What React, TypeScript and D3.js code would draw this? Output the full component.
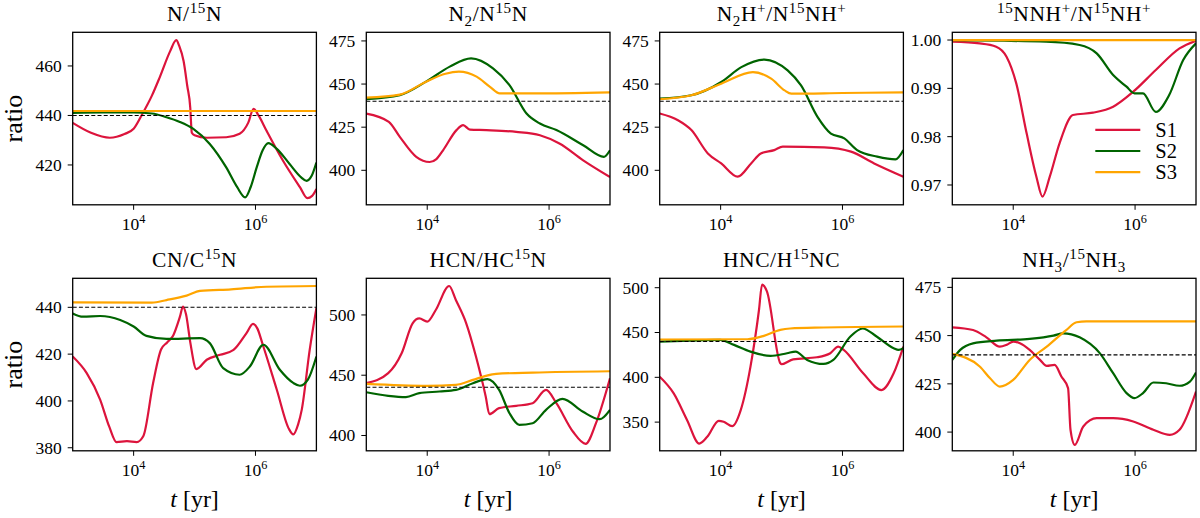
import * as d3 from "d3";

// log10(t / yr) and ratio
const nS1 = [[3.0,437],[3.3,433],[3.61,431],[3.85,432.5],[4.0,434.6],[4.13,440],[4.3,448],[4.43,455.5],[4.6,466],[4.7,470.4],[4.75,468],[4.82,462],[4.88,452],[4.93,443],[4.945,436],[4.955,433],[5.0,432],[5.2,431],[5.52,431.2],[5.74,432.6],[5.88,437],[5.97,442.7],[6.05,440],[6.18,433.9],[6.45,421.8],[6.73,411],[6.85,406.6],[6.93,407.5],[7.0,410.3]];
const nS2 = [[3.0,441],[3.5,441.2],[4.0,441.2],[4.3,440.8],[4.54,439.3],[4.75,437.5],[4.98,434.6],[5.25,428.5],[5.52,419],[5.7,411],[5.83,406.9],[5.92,411],[6.02,419],[6.12,426],[6.21,428.8],[6.35,426.5],[6.56,420.4],[6.75,415],[6.84,413.6],[6.92,415.5],[7.0,421]];
const nS3 = [[3.0,441.8],[7.0,441.8]];

const n2S1 = [[3.0,432.9],[3.37,428.1],[3.55,419.4],[3.82,407.8],[4.04,404.8],[4.15,406.5],[4.26,411.6],[4.48,423.3],[4.59,426.2],[4.7,423.6],[4.97,423.3],[5.46,422.3],[5.85,420.3],[6.17,415.5],[6.56,405.8],[7.0,396.1]];
const n2S2 = [[3.0,441.3],[3.55,443.6],[3.98,451.4],[4.37,460.1],[4.72,464.9],[5.08,459.1],[5.35,449.4],[5.63,432.9],[5.85,427.1],[6.12,423.3],[6.56,414.5],[6.9,407.8],[7.0,411.6]];
const n2S3 = [[3.0,442.1],[3.55,443.9],[3.98,451.4],[4.3,456],[4.52,457.2],[4.81,454.3],[5.03,448.4],[5.19,444.6],[5.74,444.6],[7.0,445.2]];

const n2hS1 = [[3.0,432.9],[3.3,429],[3.52,423.3],[3.79,409.8],[4.01,404],[4.28,396.3],[4.5,404],[4.66,409.8],[4.88,411.7],[5.02,413.7],[5.7,413.3],[6.14,410.8],[6.52,404],[7.0,396.3]];
const n2hS2 = [[3.0,441.5],[3.52,443.5],[4.01,451.2],[4.34,459.8],[4.72,464.2],[5.1,457.9],[5.32,449.2],[5.59,431],[5.81,421.3],[6.03,418.5],[6.24,411.7],[6.57,407.9],[6.87,406.3],[7.0,411.7]];
const n2hS3 = [[3.0,441.2],[3.52,443.5],[4.01,450.2],[4.53,456.9],[4.83,453.1],[5.05,446.3],[5.16,444.4],[6.0,444.8],[7.0,445.2]];

const nnhS1 = [[3.0,0.99966],[3.45,0.99931],[3.72,0.99862],[3.89,0.99655],[4.05,0.99103],[4.22,0.98069],[4.38,0.97172],[4.48,0.96759],[4.6,0.97172],[4.76,0.97862],[4.98,0.98448],[5.31,0.98497],[5.64,0.98621],[5.97,0.98931],[6.34,0.99379],[6.73,0.99828],[7.0,0.99986]];
const nnhS2 = [[3.0,0.99995],[4.54,0.99966],[5.09,0.99897],[5.37,0.99724],[5.64,0.99276],[5.86,0.99034],[5.99,0.98897],[6.13,0.98897],[6.34,0.98512],[6.56,0.98862],[6.79,0.99586],[7.0,0.99931]];
const nnhS3 = [[3.0,1.0],[7.0,1.0]];

const cnS1 = [[3.0,419],[3.23,411.9],[3.45,400.6],[3.6,389],[3.72,382.4],[3.89,382.8],[4.05,382.4],[4.16,385],[4.32,407.7],[4.45,422],[4.55,425],[4.65,428],[4.76,436],[4.81,440.3],[4.86,437],[4.93,425],[5.03,413.6],[5.2,417.6],[5.42,419.7],[5.64,421.8],[5.85,428.9],[5.96,432.9],[6.03,431],[6.12,424],[6.35,404.8],[6.55,388],[6.62,385.7],[6.7,390],[6.76,396.3],[6.89,421.8],[7.0,439.6]];
const cnS2 = [[3.0,437.4],[3.17,436],[3.45,436.3],[3.78,434.6],[4.0,431.8],[4.21,427.8],[4.54,426.5],[5.09,426.8],[5.25,424.7],[5.47,414],[5.74,411.2],[5.91,414.8],[6.13,424],[6.4,413.3],[6.62,407.7],[6.73,406.5],[6.86,409.1],[7.0,419]];
const cnS3 = [[3.0,442.1],[4.3,442],[4.54,443.1],[4.87,445],[5.09,447],[5.6,447.7],[6.18,448.8],[7.0,449.1]];

const hcnS1 = [[3.0,443.4],[3.36,451.7],[3.58,468.2],[3.76,493.1],[3.87,497.2],[4.0,494.5],[4.14,504.1],[4.36,524],[4.47,512.4],[4.64,493.1],[4.8,465.5],[4.96,432.3],[5.02,417.7],[5.18,422.7],[5.46,424.6],[5.73,426.8],[5.95,437.8],[6.12,426.8],[6.39,403.3],[6.6,393.1],[6.77,410.2],[7.0,447.5]];
const hcnS2 = [[3.0,435.9],[3.36,432.9],[3.65,431.8],[3.87,435.1],[4.2,436.5],[4.47,437.8],[4.75,443.4],[4.99,446.7],[5.18,437.8],[5.35,418.5],[5.51,408.8],[5.73,410.2],[5.95,421.3],[6.22,430.4],[6.55,419.9],[6.83,413.5],[7.0,421.3]];
const hcnS3 = [[3.0,442.8],[4.0,441.2],[4.47,442],[4.75,446.1],[4.96,449.4],[5.13,451.1],[5.73,452.2],[7.0,453.3]];

const hncS1 = [[3.0,400.7],[3.23,382.1],[3.45,352.2],[3.65,326.1],[3.78,333.6],[3.97,351.5],[4.05,350.4],[4.19,345.5],[4.33,363.4],[4.49,411.9],[4.63,475.4],[4.68,503.4],[4.76,495.9],[4.98,415.7],[5.0,414.6],[5.19,420.1],[5.58,422.4],[5.8,426.9],[5.93,434.3],[6.02,430.6],[6.34,404.5],[6.64,385.8],[6.84,404.5],[7.0,434.3]];
const hncS2 = [[3.0,439.9],[3.5,441],[3.99,441.8],[4.22,436.2],[4.49,428.7],[4.82,423.9],[5.09,426.9],[5.23,428.7],[5.42,419.4],[5.69,414.9],[5.85,419.4],[6.13,445.5],[6.33,454.5],[6.56,445.5],[6.84,432.5],[6.92,430.6],[7.0,432.5]];
const hncS3 = [[3.0,442.2],[4.44,442.5],[4.71,446.3],[4.98,453],[5.14,454.5],[5.69,455.6],[7.0,456.7]];

const nh3S1 = [[3.0,454.3],[3.34,452.9],[3.56,449.1],[3.78,444.3],[3.89,445.2],[4.0,446.9],[4.11,446],[4.27,442.6],[4.44,437.4],[4.55,434.3],[4.68,434.8],[4.79,428.8],[4.9,422.8],[4.94,401.2],[5.01,393.4],[5.15,402.9],[5.37,407.2],[5.64,407.2],[5.97,405.5],[6.3,401.2],[6.57,398.6],[6.73,401.2],[7.0,421]];
const nh3S2 = [[3.0,437.4],[3.13,442.6],[3.34,446],[3.73,447.4],[4.27,448.3],[4.66,450],[4.82,451.2],[5.09,449.1],[5.42,440.9],[5.64,430.5],[5.86,420.2],[5.99,417.6],[6.13,420.2],[6.3,425.7],[6.51,425.3],[6.73,424],[6.9,426.2],[7.0,430.9]];
const nh3S3 = [[3.0,440.5],[3.45,434],[3.62,427.9],[3.78,423.6],[4.0,427.1],[4.27,437.4],[4.55,444.3],[4.87,452.9],[5.04,456.9],[5.2,457.4],[7.0,457.4]];

// title pieces: [text, 0 normal | 1 superscript | -1 subscript]
const titles = [
  [["N/", 0], ["15", 1], ["N", 0]],
  [["N", 0], ["2", -1], ["/N", 0], ["15", 1], ["N", 0]],
  [["N", 0], ["2", -1], ["H", 0], ["+", 1], ["/N", 0], ["15", 1], ["NH", 0], ["+", 1]],
  [["15", 1], ["NNH", 0], ["+", 1], ["/N", 0], ["15", 1], ["NH", 0], ["+", 1]],
  [["CN/C", 0], ["15", 1], ["N", 0]],
  [["HCN/HC", 0], ["15", 1], ["N", 0]],
  [["HNC/H", 0], ["15", 1], ["NC", 0]],
  [["NH", 0], ["3", -1], ["/", 0], ["15", 1], ["NH", 0], ["3", -1]],
];

const yDomains = [[403.9, 473.6], [380, 480], [380, 480], [0.9659, 1.0016], [378.7, 452.4], [387.3, 530.4], [318, 510.5], [390.3, 479.7]];
const yTicks = [[420, 440, 460], [400, 425, 450, 475], [400, 425, 450, 475], [0.97, 0.98, 0.99, 1.0], [380, 400, 420, 440], [400, 450, 500], [350, 400, 450, 500], [400, 425, 450, 475]];
const seriesData = [
  [nS1, nS2, nS3], [n2S1, n2S2, n2S3], [n2hS1, n2hS2, n2hS3], [nnhS1, nnhS2, nnhS3],
  [cnS1, cnS2, cnS3], [hcnS1, hcnS2, hcnS3], [hncS1, hncS2, hncS3], [nh3S1, nh3S2, nh3S3],
];
const seriesNames = ["S1", "S2", "S3"];
const seriesColors = ["#dc143c", "#006400", "#ffa500"];
const xTickExps = [4, 6];
const refRatio = 440;

const FONT = "'Liberation Serif', 'DejaVu Serif', serif";
const colLeft = [72.7, 366.3, 659.7, 952.3];
const rowTop = [32.3, 278.3];
const PW = 243.7;
const PH = 172.5;

function Rich({ parts, x, y, size, anchor = "middle", spacing = 0 }: { parts: any[]; x: number; y: number; size: number; anchor?: string; spacing?: number }) {
  const small = size * 0.7;
  let shift = 0;
  const spans = parts.map(([txt, kind]: [string, number], i: number) => {
    const target = kind === 1 ? -size * 0.4 : kind === -1 ? size * 0.22 : 0;
    const dy = target - shift;
    shift = target;
    return (
      <tspan key={i} dy={dy} fontSize={kind === 0 ? size : small}>
        {txt}
      </tspan>
    );
  });
  return (
    <text x={x} y={y} textAnchor={anchor} fontFamily={FONT} fontSize={size} letterSpacing={spacing} fill="#000">
      {spans}
    </text>
  );
}

function Panel({ idx }: { idx: number }) {
  const col = idx % 4;
  const row = Math.floor(idx / 4);
  const x0 = colLeft[col];
  const y0 = rowTop[row];
  const x = d3.scaleLog().domain([1e3, 1e7]).range([0, PW]);
  const y = d3.scaleLinear().domain(yDomains[idx]).range([PH, 0]);
  const line = d3
    .line<number[]>()
    .x((d) => x(Math.pow(10, d[0])))
    .y((d) => y(d[1]))
    .curve(d3.curveMonotoneX);
  const fmt = idx === 3 ? d3.format(".2f") : d3.format("d");
  const showRef = refRatio >= yDomains[idx][0] && refRatio <= yDomains[idx][1];
  return (
    <g transform={`translate(${x0},${y0})`}>
      <defs>
        <clipPath id={`clip${idx}`}>
          <rect x={0} y={0} width={PW} height={PH} />
        </clipPath>
      </defs>
      <g clipPath={`url(#clip${idx})`}>
        {seriesData[idx].map((s, i) => (
          <path key={i} d={line(s as number[][]) || ""} fill="none" stroke={seriesColors[i]} strokeWidth={2.2} strokeLinejoin="round" />
        ))}
        {showRef && (
          <line x1={0} x2={PW} y1={y(refRatio)} y2={y(refRatio)} stroke="#000" strokeWidth={1.1} strokeDasharray="4,2.2" />
        )}
      </g>
      <rect x={0} y={0} width={PW} height={PH} fill="none" stroke="#000" strokeWidth={1.3} />
      {yTicks[idx].map((t) => (
        <g key={t} transform={`translate(0,${y(t)})`}>
          <line x1={-5} x2={0} stroke="#000" strokeWidth={1} />
          <text x={-11} dy="0.34em" textAnchor="end" fontFamily={FONT} fontSize={17.5}>
            {fmt(t)}
          </text>
        </g>
      ))}
      {xTickExps.map((e) => (
        <g key={e} transform={`translate(${x(Math.pow(10, e))},${PH})`}>
          <line y1={0} y2={5} stroke="#000" strokeWidth={1} />
          <Rich parts={[["10", 0], [String(e), 1]]} x={0} y={25.5} size={17.5} />
        </g>
      ))}
      <Rich parts={titles[idx]} x={PW / 2} y={-11} size={21.5} spacing={0.6} />
      {col === 0 && (
        <text transform={`translate(-51,${PH / 2}) rotate(-90)`} textAnchor="middle" fontFamily={FONT} fontSize={26}>
          ratio
        </text>
      )}
      {row === 1 && (
        <text x={PW / 2} y={PH + 56} textAnchor="middle" fontFamily={FONT} fontSize={24}>
          <tspan fontStyle="italic">t</tspan>
          <tspan> [yr]</tspan>
        </text>
      )}
      {idx === 3 &&
        seriesNames.map((n, i) => (
          <g key={n} transform={`translate(143,${97.5 + i * 21.2})`}>
            <line x1={0} x2={45} stroke={seriesColors[i]} strokeWidth={2.2} />
            <text x={60} dy="0.34em" fontFamily={FONT} fontSize={20.5}>
              {n}
            </text>
          </g>
        ))}
    </g>
  );
}

export default function App() {
  return (
    <svg width={1200} height={518} style={{ position: "absolute", left: 0, top: 0, background: "#fff" }}>
      <rect width={1200} height={518} fill="#fff" />
      {d3.range(8).map((i) => (
        <Panel key={i} idx={i} />
      ))}
    </svg>
  );
}
